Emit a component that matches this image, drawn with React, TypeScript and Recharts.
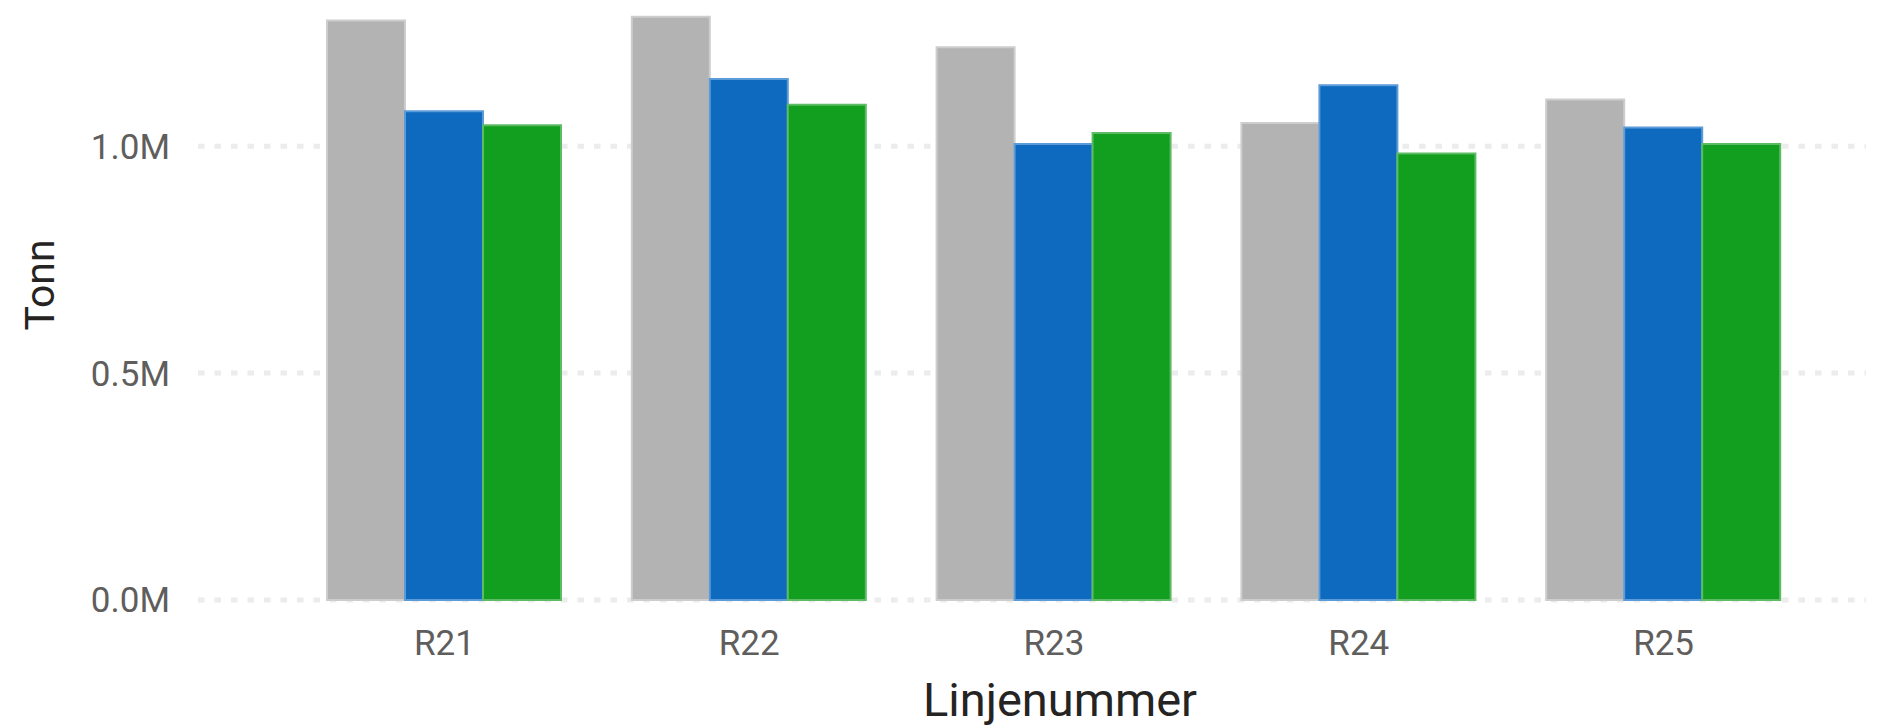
import { BarChart, Bar, XAxis, YAxis, CartesianGrid } from 'recharts';

const categories = ['R21', 'R22', 'R23', 'R24', 'R25'];
const seriesGray = [1277000, 1285000, 1218000, 1051000, 1103000];
const seriesBlue = [1077000, 1148000, 1005000, 1134000, 1041000];
const seriesGreen = [1046000, 1091000, 1029000, 984000, 1005000];
const yTicks = [0, 500000, 1000000];

const data = categories.map((name, i) => ({
  name,
  gray: seriesGray[i],
  blue: seriesBlue[i],
  green: seriesGreen[i],
}));

const FONT = 'Roboto, "Open Sans", sans-serif';

const XTitle = ({ viewBox }: any) => {
  const cx = viewBox.x + viewBox.width / 2 + 28;
  return (
    <text x={cx} y={viewBox.y + 116} textAnchor="middle" fontFamily={FONT} fontSize={47} fill="#252423">
      Linjenummer
    </text>
  );
};

const YTitle = ({ viewBox }: any) => {
  const cx = viewBox.x + 54;
  const cy = viewBox.y + viewBox.height / 2 - 20;
  return (
    <text
      x={cx}
      y={cy}
      transform={`rotate(-90 ${cx} ${cy})`}
      textAnchor="middle"
      fontFamily={FONT}
      fontSize={41}
      fill="#252423"
    >
      Tonn
    </text>
  );
};

export default function App() {
  return (
    <div style={{ position: 'absolute', left: 0, top: 0, background: '#fff' }}>
      <BarChart
        width={1884}
        height={728}
        data={data}
        margin={{ top: 10, right: 18, left: 0, bottom: 0 }}
        barCategoryGap={35}
        barGap={0}
      >
        <CartesianGrid
          vertical={false}
          horizontalValues={yTicks}
          stroke="#ececec"
          strokeWidth={5}
          strokeDasharray="6.5 10"
        />
        <XAxis
          dataKey="name"
          height={128}
          axisLine={false}
          tickLine={false}
          tickSize={0}
          tickMargin={30}
          padding={{ left: 94, right: 50 }}
          tick={{ fontSize: 35, fill: '#605E5C', fontFamily: FONT }}
          label={<XTitle />}
        />
        <YAxis
          width={198}
          domain={[0, 1300000]}
          ticks={yTicks}
          axisLine={false}
          tickLine={false}
          tickSize={0}
          tickMargin={28}
          tickFormatter={(v: number) => `${(v / 1000000).toFixed(1)}M`}
          tick={{ fontSize: 35, fill: '#605E5C', fontFamily: FONT }}
          label={<YTitle />}
        />
        <Bar dataKey="gray" fill="#B3B3B3" stroke="#cdcdcd" strokeWidth={2} isAnimationActive={false} />
        <Bar dataKey="blue" fill="#0E6ABF" stroke="#5a9bd8" strokeWidth={2} isAnimationActive={false} />
        <Bar dataKey="green" fill="#129E1F" stroke="#5dbb64" strokeWidth={2} isAnimationActive={false} />
      </BarChart>
    </div>
  );
}
